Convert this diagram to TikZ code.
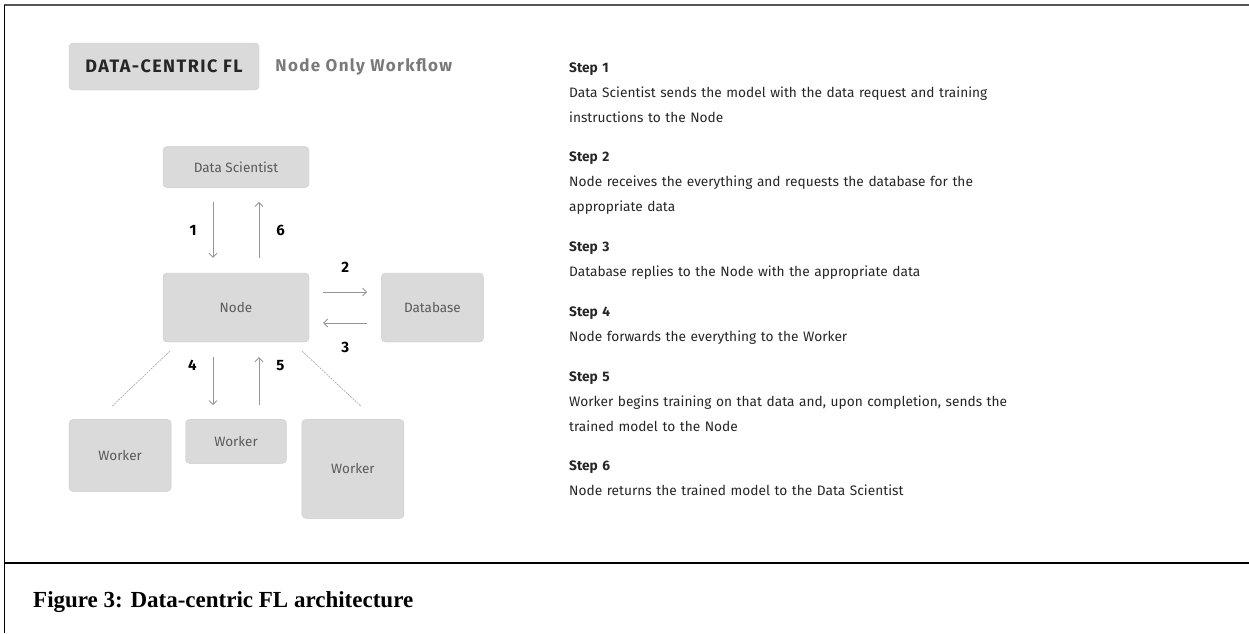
\documentclass[tikz,border=0pt]{standalone}
\usepackage{fontspec}
\setmainfont{Fira Sans}
\newfontfamily\capfont{Liberation Serif}
\newfontfamily\widefont[LetterSpace=8]{Fira Sans}
\usetikzlibrary{arrows.meta,positioning,calc}
\definecolor{boxgray}{HTML}{DADADA}
\definecolor{boxline}{HTML}{CBCBCB}
\definecolor{flowgray}{HTML}{969696}
\definecolor{labelgray}{HTML}{5A5A5A}
\definecolor{subgray}{HTML}{7A7A7A}
\definecolor{framegray}{HTML}{555555}

\begin{document}
\begin{tikzpicture}[
  x=1pt, y=1pt,
  box/.style={rounded corners=4pt, draw=boxline, fill=boxgray, align=center, inner sep=0pt, text=labelgray, font=\fontsize{13.5}{15}\selectfont},
  flow/.style={-{Straight Barb[length=4pt,width=8pt]}, draw=flowgray, line width=0.9pt},
  spoke/.style={draw=gray!70, line width=0.6pt, dash pattern=on 2pt off 1pt},
  num/.style={font=\fontsize{15}{16}\selectfont\bfseries, text=black, inner sep=0pt},
  stepbox/.style={anchor=north west, align=left, inner sep=0pt, text width=520pt, font=\fontsize{13.7}{25}\selectfont, text=black!85}
]
\useasboundingbox (0,0) rectangle (1249,-633);

% frame and caption
\draw[framegray, line width=1.5pt] (4,-5) -- (1249,-5);
\draw[black, line width=1pt] (4,-5) -- (4,-633);
\draw[black, line width=1.5pt] (4,-563) -- (1249,-563);
\node[anchor=base west, inner sep=0pt, font=\capfont\bfseries\fontsize{23}{26}\selectfont] (cap) at (33,-607) {Figure 3: Data-centric FL architecture};

% header
\node[box, minimum width=190pt, minimum height=47pt, text=black!85, font=\widefont\bfseries\fontsize{18}{20}\selectfont] (title) at (164,-66.5) {DATA-CENTRIC FL};
\node[right=16pt of title, inner sep=0pt, text=subgray, font=\widefont\bfseries\fontsize{17}{20}\selectfont] (sub) {Node Only Workflow};

% workflow
\node[box, minimum width=146pt, minimum height=69pt] (node) at (236,-307.5) {Node};
\node[box, above=85pt of node, minimum width=146pt, minimum height=41pt] (sci) {Data Scientist};
\node[box, right=72pt of node, minimum width=102pt, minimum height=69pt] (db) {Database};
\node[box, below=77pt of node, minimum width=101pt, minimum height=44pt] (w2) {Worker};
\node[box, left=14pt of w2.north west, anchor=north east, minimum width=102pt, minimum height=72pt] (w1) {Worker};
\node[box, right=15pt of w2.north east, anchor=north west, minimum width=102pt, minimum height=99pt] (w3) {Worker};

\draw[flow, shorten <=14pt, shorten >=15pt] ([xshift=-23pt]sci.south) -- ([xshift=-23pt]node.north) node[num, midway, left=16pt] {1};
\draw[flow, shorten <=15pt, shorten >=14pt] ([xshift=23pt]node.north) -- ([xshift=23pt]sci.south) node[num, midway, right=17pt] {6};
\draw[flow, shorten <=14pt, shorten >=14pt] ([yshift=15.5pt]node.east) -- ([yshift=15.5pt]db.west) node[num, midway, above=19pt] {2};
\draw[flow, shorten <=14pt, shorten >=14pt] ([yshift=-15.5pt]db.west) -- ([yshift=-15.5pt]node.east) node[num, midway, below=19pt] {3};
\draw[flow, shorten <=15pt, shorten >=14pt] ([xshift=-23pt]node.south) -- ([xshift=-23pt]node.south |- w2.north) node[num, pos=0.3, left=16pt] {4};
\draw[flow, shorten <=14pt, shorten >=15pt] ([xshift=23pt]node.south |- w2.north) -- ([xshift=23pt]node.south) node[num, pos=0.7, right=17pt] {5};
\draw[spoke] ($(node.south west)+(7,-9)$) -- ($(w1.north)+(-8,13)$);
\draw[spoke] ($(node.south east)+(-7,-9)$) -- ($(w3.north)+(8,13)$);

% steps
\node[stepbox] (s1) at (569,-63) {\textbf{Step 1}\\Data Scientist sends the model with the data request and training\\instructions to the Node};
\node[stepbox] (s2) at (569,-152) {\textbf{Step 2}\\Node receives the everything and requests the database for the\\appropriate data};
\node[stepbox] (s3) at (569,-242) {\textbf{Step 3}\\Database replies to the Node with the appropriate data};
\node[stepbox] (s4) at (569,-307) {\textbf{Step 4}\\Node forwards the everything to the Worker};
\node[stepbox] (s5) at (569,-372) {\textbf{Step 5}\\Worker begins training on that data and, upon completion, sends the\\trained model to the Node};
\node[stepbox] (s6) at (569,-461) {\textbf{Step 6}\\Node returns the trained model to the Data Scientist};
\end{tikzpicture}
\end{document}
